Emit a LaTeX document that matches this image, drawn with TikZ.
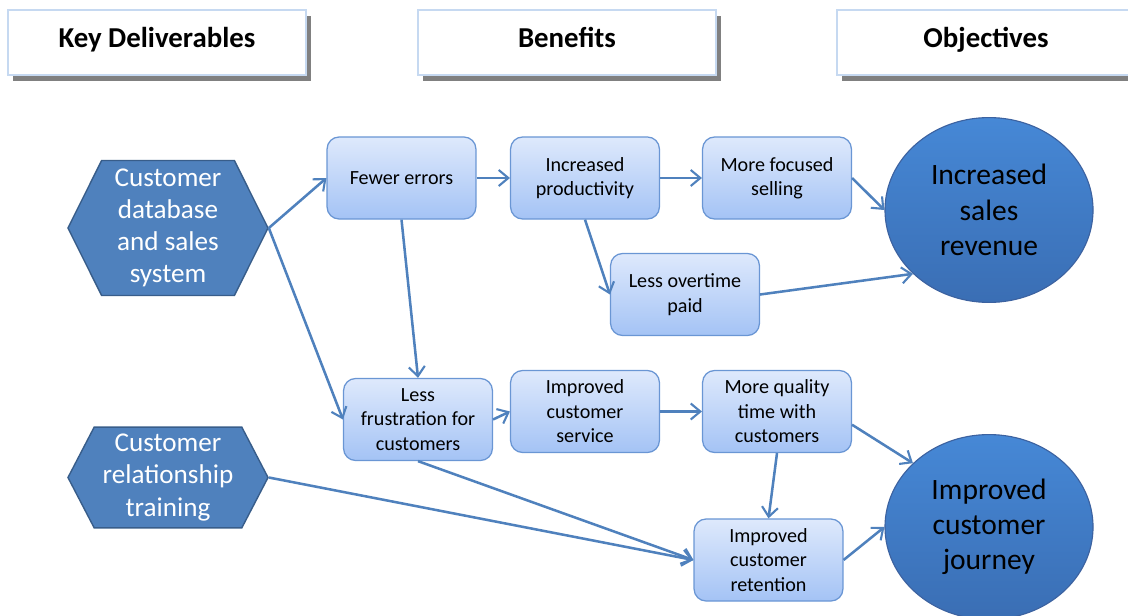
\documentclass[tikz,border=0pt]{standalone}
\usepackage{fontspec}
\setmainfont{Carlito}
\usetikzlibrary{arrows.meta, positioning, shapes.geometric, shapes.symbols, shadows}
\definecolor{hexblue}{RGB}{79,129,189}
\definecolor{hexedge}{RGB}{56,93,138}
\definecolor{boxtop}{RGB}{222,233,252}
\definecolor{boxbot}{RGB}{164,195,245}
\definecolor{boxedge}{RGB}{106,150,212}
\definecolor{elltop}{RGB}{70,136,214}
\definecolor{ellbot}{RGB}{58,110,180}
\definecolor{elledge}{RGB}{60,98,160}
\definecolor{hdredge}{RGB}{198,217,241}
\tikzset{
  hdr_box/.style = {rectangle, draw=hdredge, line width=1pt, fill=white,
    minimum width=7.45cm, minimum height=1.625cm,
    text height=0.86em, text depth=0.1em,
    font=\fontsize{20.5}{24}\selectfont\bfseries,
    drop shadow={fill=black!50, opacity=1, shadow xshift=0.13cm,
      shadow yshift=-0.16cm}},% column heading
  del_hex/.style = {signal, signal to=west and east, signal pointer angle=127,
    draw=hexedge, line width=1pt, fill=hexblue, text=white, align=center,
    inner sep=1pt, minimum width=5cm,
    font=\fontsize{19.3}{22.8}\selectfont},% deliverable
  ben_box/.style = {rectangle, rounded corners=0.3cm, draw=boxedge,
    line width=0.9pt, top color=boxtop, bottom color=boxbot, align=center,
    minimum width=3.72cm, minimum height=2.05cm, inner sep=2pt,
    font=\fontsize{14.3}{17.4}\selectfont},% benefit
  obj_ell/.style = {ellipse, draw=elledge, line width=0.8pt,
    top color=elltop, bottom color=ellbot, align=center,
    minimum width=5.2cm, minimum height=4.62cm, inner sep=0pt,
    font=\fontsize{21}{25}\selectfont},% objective
  link/.style = {->, draw=hexblue, line width=1.8pt}
}

\begin{document}
\begin{tikzpicture}[x=0.025cm, y=-0.025cm,
  >={Straight Barb[length=2.4mm, width=4mm, line width=1.5pt]}]
\useasboundingbox (0,0) rectangle (1128,616);

% headings
\node [hdr_box] (kd) at (157,42.5) {Key Deliverables};
\node [hdr_box] (bn) at (567,42.5) {Benefits};
\node [hdr_box] (ob) at (986,42.5) {Objectives};

% deliverables
\node [del_hex, minimum height=3.375cm] (cdb) at (168,228)
  {Customer\\database\\and sales\\system};
\node [del_hex, minimum height=2.52cm, signal pointer angle=125] (crt) at (168,477.5)
  {Customer\\relationship\\training};

% benefits
\node [ben_box] (few) at (401.5,178) {Fewer errors};
\node [ben_box] (ipr) at (585,178) {Increased\\productivity};
\node [ben_box] (mfs) at (777,178) {More focused\\selling};
\node [ben_box] (lop) at (685,294.5) {Less overtime\\paid};
\node [ben_box] (lfr) at (418,419.5) {Less\\frustration for\\customers};
\node [ben_box] (ics) at (585,411.5) {Improved\\customer\\service};
\node [ben_box] (mqt) at (777,411.5) {More quality\\time with\\customers};
\node [ben_box] (icr) at (768.5,560) {Improved\\customer\\retention};

% objectives
\node [obj_ell] (isr) at (989,210) {Increased\\sales\\revenue};
\node [obj_ell] (icj) at (989,527) {Improved\\customer\\journey};

% links
\draw [link] (cdb.east) -- (few.west);
\draw [link] (cdb.east) -- (lfr.west);
\draw [link] (few.east) -- (ipr.west);
\draw [link] (few.south) -- (lfr.north);
\draw [link] (ipr.east) -- (mfs.west);
\draw [link] (ipr.south) -- (lop.west);
\draw [link] (mfs.east) -- (isr.west);
\draw [link] (lop.east) -- (isr.220);
\draw [link] (lfr.east) -- (ics.west);
\draw [link] (lfr.south) -- (icr.west);
\draw [link] (crt.east) -- (icr.west);
\draw [link] (ics.east) -- (mqt.west);
\draw [link] (mqt.-10) -- (icj.140);
\draw [link] (mqt.south) -- (icr.north);
\draw [link] (icr.east) -- (icj.west);
\end{tikzpicture}
\end{document}
